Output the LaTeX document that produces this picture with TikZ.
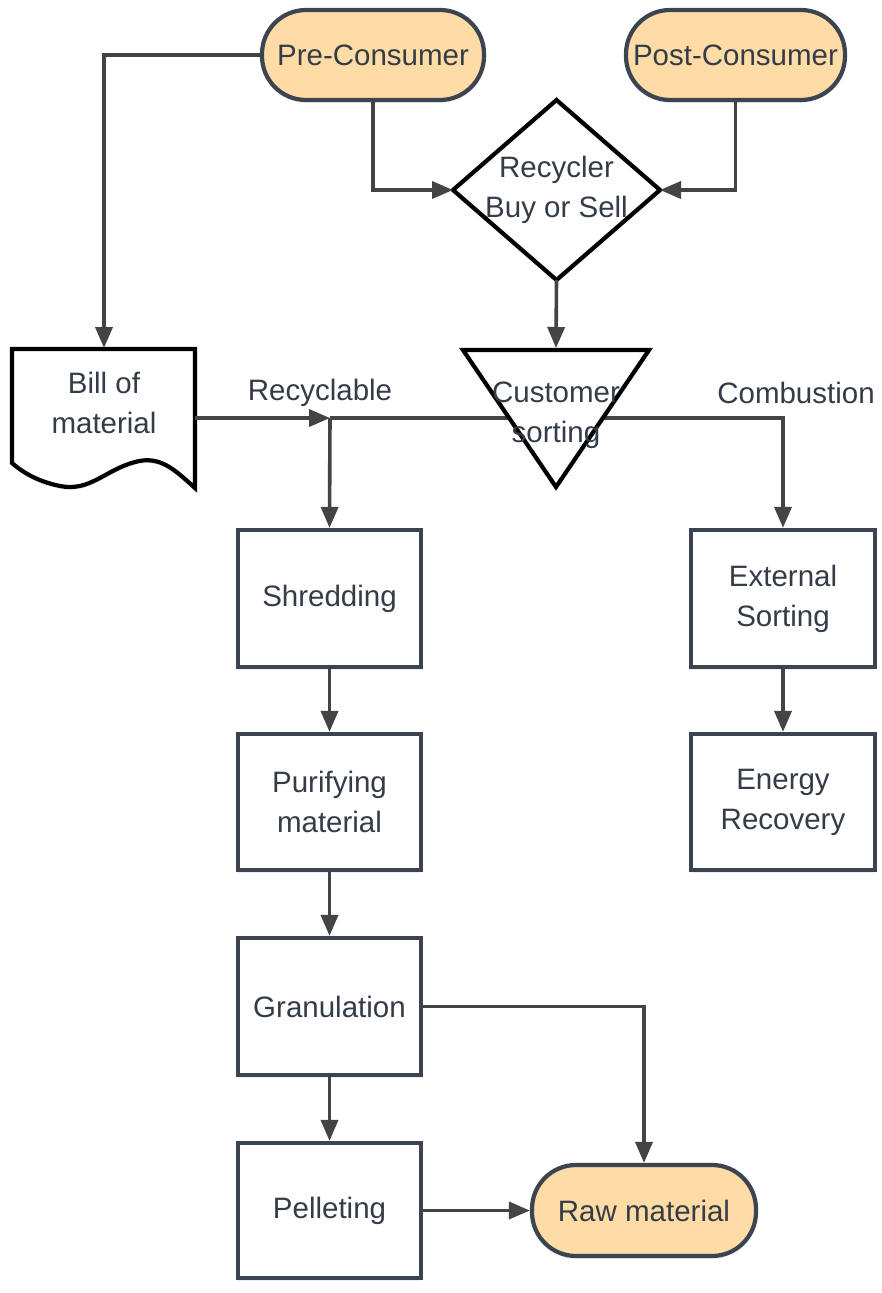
\documentclass[tikz,border=0pt]{standalone}
\usepackage{fontspec}
\setmainfont{Liberation Sans}
\usetikzlibrary{arrows.meta,shadows}
\definecolor{stroke}{HTML}{3B4450}
\definecolor{wire}{HTML}{444444}
\definecolor{txt}{HTML}{333C47}
\definecolor{term}{HTML}{FFDBA6}
\begin{document}
\begin{tikzpicture}[x=1pt,y=-1pt,
  every node/.style={font=\fontsize{29.5}{40}\selectfont, text=txt, align=center},
  shd/.style={drop shadow={opacity=0.12,shadow xshift=0pt,shadow yshift=-3pt}},
  procbox/.style={draw=stroke, line width=4.2pt, fill=white, minimum width=183pt, minimum height=137pt, inner sep=0pt, shd},
  termbox/.style={draw=stroke, line width=4.2pt, fill=term, rounded corners=44pt, minimum width=222pt, minimum height=90pt, inner sep=0pt, shd},
  conn/.style={draw=wire, line width=3.6pt},
  arr/.style={conn, -{Triangle[length=21pt,width=17pt]}},
  lbl/.style={inner sep=0pt}
]
\useasboundingbox (0,0) rectangle (881,1293);
\fill[white] (0,0) rectangle (881,1293);

% terminals
\node[termbox] (pre) at (373,55) {Pre-Consumer};
\node[termbox, minimum width=219pt] (post) at (735.5,55) {Post-Consumer};
\node[termbox, minimum width=224pt, minimum height=91pt] (raw) at (644,1210.5) {Raw material};

% decision
\coordinate (dtop) at (556.5,100);
\coordinate (dbot) at (556.5,280);
\coordinate (dleft) at (453,190);
\coordinate (dright) at (660,190);
\draw[stroke, line width=4.2pt, fill=white, line join=miter, shd] (dtop) -- (dright) -- (dbot) -- (dleft) -- cycle;
\node[lbl] (dtext) at (556.5,190) {Recycler\\Buy or Sell};

% bill of material (document)
\coordinate (billtop) at (104,348);
\coordinate (billright) at (195,418);
\draw[stroke, line width=4.2pt, fill=white, shd] (12,349) -- (195,349) -- (195,488)
   .. controls (175,470) and (160,455) .. (135,462)
   .. controls (105,470) and (90,492) .. (60,486)
   .. controls (35,481) and (20,470) .. (12,463) -- cycle;
\node[lbl] (billtext) at (104,403) {Bill of\\material};

% process boxes
\node[procbox] (shred) at (329.5,598.5) {Shredding};
\node[procbox, minimum height=136pt] (purif) at (329.5,802) {Purifying\\material};
\node[procbox] (gran) at (329.5,1006.5) {Granulation};
\node[procbox, minimum height=135pt] (pell) at (329.5,1210.5) {Pelleting};
\node[procbox, minimum width=184pt] (ext) at (783,598.5) {External\\Sorting};
\node[procbox, minimum width=184pt, minimum height=136pt] (energy) at (783,802) {Energy\\Recovery};

% connectors
\coordinate (junc) at (330,418);
\coordinate (tritop) at (556,348);
\draw[arr] (pre.south) |- (dleft);
\draw[arr] (post.south) |- (dright);
\draw[arr] (pre.west) -| (billtop);
\draw[arr] (dbot) -- (tritop);
\draw[arr] (junc) -| (ext.north);
\draw[arr] (billright) -- (junc);
\draw[arr] (junc) -- (shred.north);
\draw[arr] (shred.south) -- (purif.north);
\draw[arr] (purif.south) -- (gran.north);
\draw[arr] (gran.south) -- (pell.north);
\draw[arr] (ext.south) -- (energy.north);
\draw[arr] (gran.east) -| (raw.north);
\draw[arr] (pell.east) -- (raw.west);

% customer sorting (inverted triangle)
\draw[stroke, line width=4.2pt, fill=white, line join=miter, shd] (463,350) -- (649,350) -- (556,487) -- cycle;
\node[lbl] (sorttext) at (556,415) {Customer\\sorting};

% labels
\node[lbl] (recy) at (320,393) {Recyclable};
\node[lbl] (comb) at (796,393) {Combustion};
\end{tikzpicture}
\end{document}
